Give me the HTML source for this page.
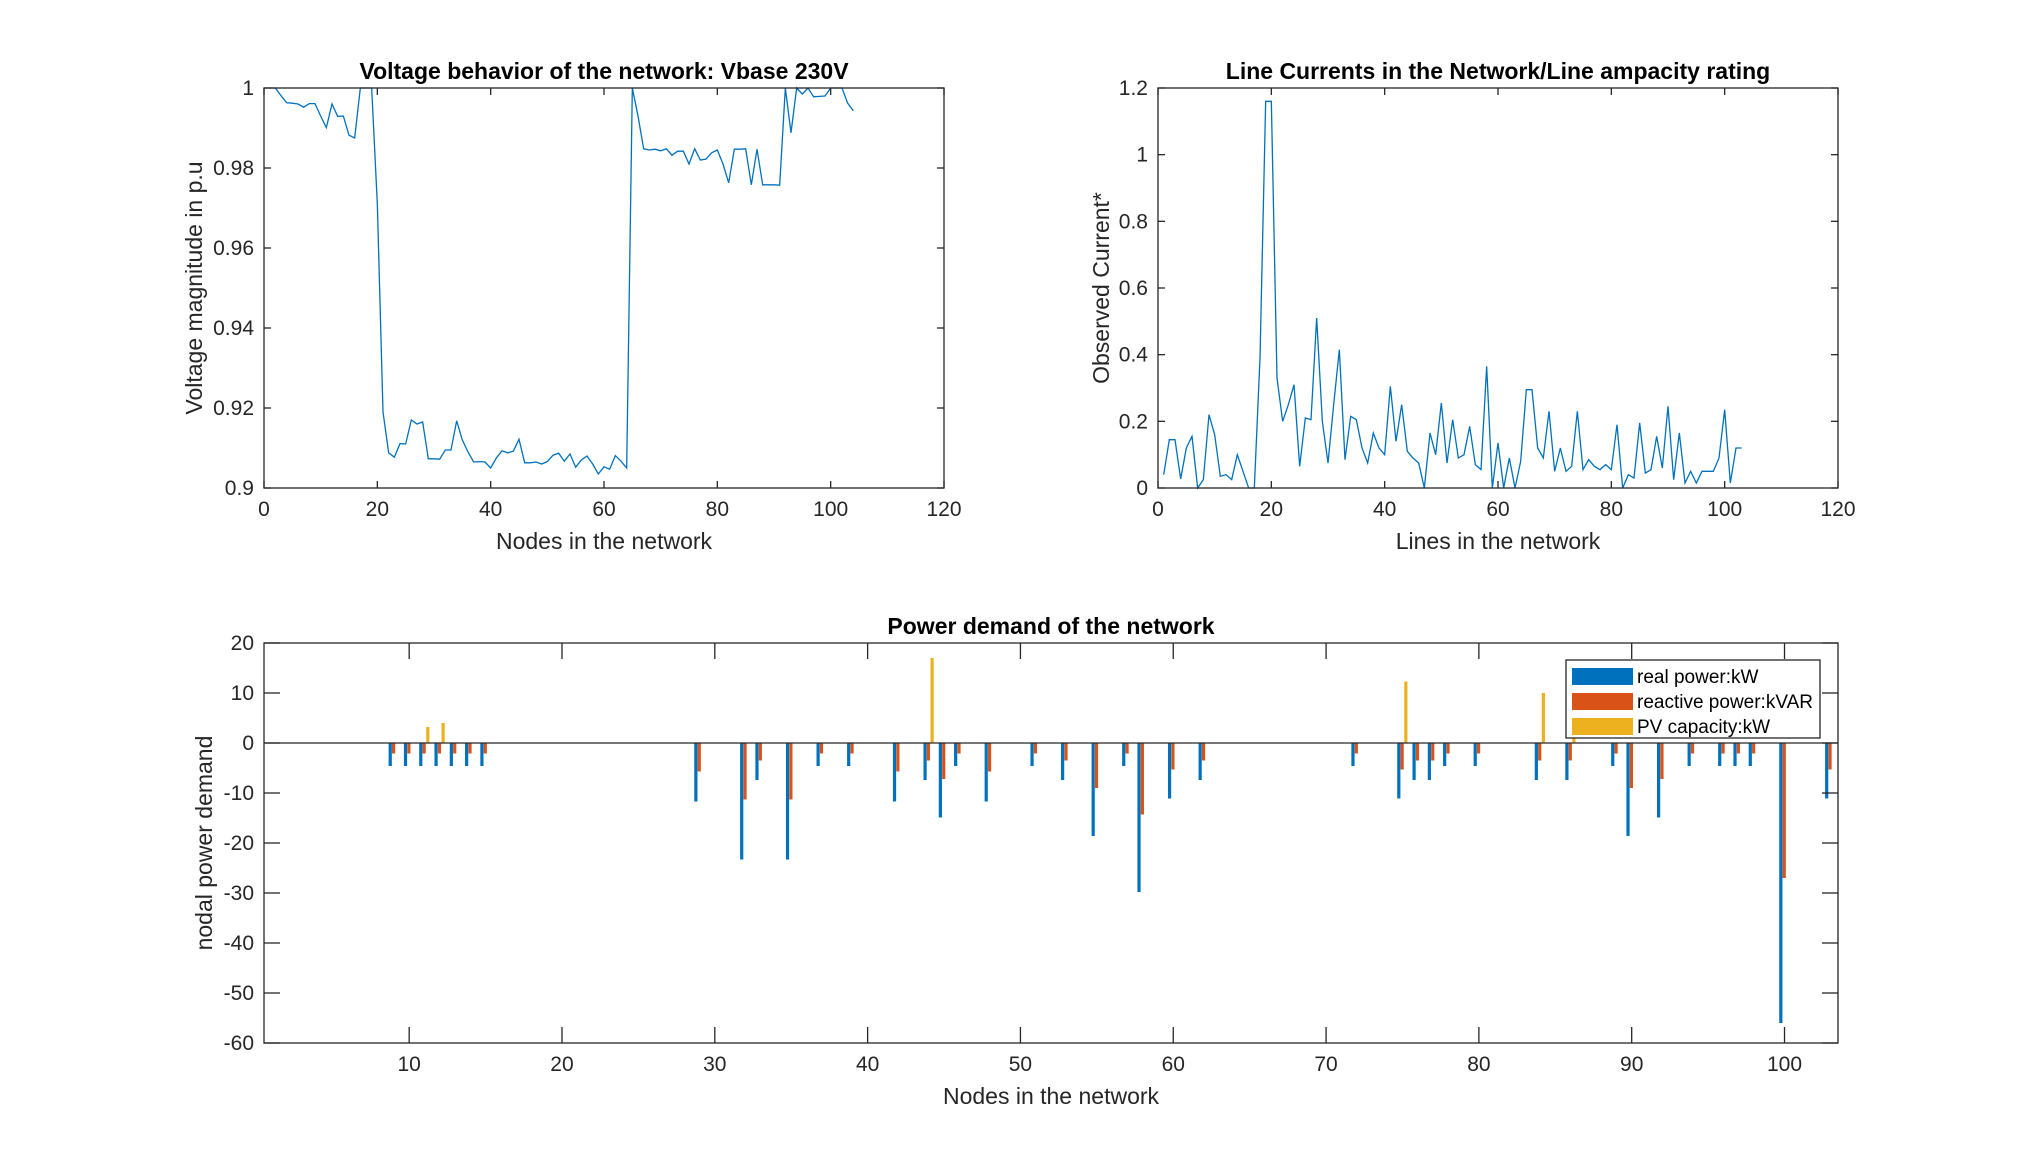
<!DOCTYPE html>
<html><head><meta charset="utf-8"><style>
html,body{margin:0;padding:0;background:#fff;}
svg{display:block;font-family:"Liberation Sans",Arial,sans-serif;}
</style></head><body>
<svg id="fig" width="2031" height="1172" viewBox="0 0 2031 1172" xmlns="http://www.w3.org/2000/svg"></svg>
<script>
const voltage=[1.0,1.0,0.9981,0.9963,0.9962,0.996,0.9952,0.9961,0.9961,0.993,0.9901,0.996,0.9929,0.993,0.9882,0.9875,1.0,1.0,1.0,0.971,0.919,0.9088,0.9077,0.9111,0.911,0.917,0.916,0.9165,0.9073,0.9073,0.9072,0.9095,0.9095,0.9168,0.912,0.909,0.9065,0.9066,0.9065,0.905,0.9075,0.9093,0.9088,0.9092,0.9122,0.9063,0.9063,0.9065,0.906,0.9066,0.9082,0.9087,0.9067,0.9085,0.9052,0.907,0.908,0.906,0.9035,0.9053,0.9047,0.9081,0.9067,0.905,1.0,0.993,0.9848,0.9845,0.9847,0.9843,0.9848,0.9832,0.9842,0.9842,0.981,0.9848,0.982,0.9822,0.9838,0.9845,0.981,0.9763,0.9847,0.9847,0.9848,0.9758,0.9847,0.9758,0.9758,0.9758,0.9757,1.0,0.9888,1.0,0.9985,1.0,0.9978,0.9979,0.998,1.0,1.0,1.0,0.9962,0.9943];
const current=[0.04,0.145,0.145,0.027,0.12,0.155,0,0.025,0.22,0.16,0.035,0.04,0.025,0.1,0.05,0,0,0.39,1.16,1.16,0.33,0.2,0.25,0.31,0.065,0.21,0.205,0.51,0.2,0.075,0.25,0.415,0.085,0.215,0.205,0.12,0.075,0.165,0.12,0.1,0.305,0.14,0.25,0.11,0.09,0.075,0,0.165,0.1,0.255,0.075,0.205,0.09,0.1,0.185,0.07,0.055,0.365,0,0.135,0,0.09,0,0.08,0.295,0.295,0.12,0.09,0.23,0.05,0.12,0.05,0.065,0.23,0.055,0.085,0.065,0.055,0.07,0.055,0.19,0,0.04,0.03,0.195,0.045,0.055,0.155,0.06,0.245,0.025,0.165,0.015,0.05,0.015,0.05,0.05,0.05,0.09,0.235,0.015,0.12,0.12];
const loadNodes=[9,10,11,12,13,14,15,29,32,33,35,37,39,42,44,45,46,48,51,53,55,57,58,60,62,72,75,76,77,78,80,84,86,89,90,92,94,96,97,98,100,103];
const realPower=[-4.6,-4.6,-4.6,-4.6,-4.6,-4.6,-4.6,-11.7,-23.3,-7.4,-23.3,-4.6,-4.6,-11.7,-7.4,-14.9,-4.6,-11.7,-4.6,-7.4,-18.6,-4.6,-29.8,-11.1,-7.4,-4.6,-11.1,-7.4,-7.4,-4.6,-4.6,-7.4,-7.4,-4.6,-18.6,-14.9,-4.6,-4.6,-4.6,-4.6,-56,-11.1];
const reactivePower=[-2.1,-2.1,-2.1,-2.1,-2.1,-2.1,-2.1,-5.7,-11.3,-3.5,-11.3,-2.1,-2.1,-5.7,-3.5,-7.2,-2.1,-5.7,-2.1,-3.5,-9,-2.1,-14.3,-5.3,-3.5,-2.1,-5.3,-3.5,-3.5,-2.1,-2.1,-3.5,-3.5,-2.1,-9,-7.2,-2.1,-2.1,-2.1,-2.1,-27,-5.3];
const pvNodes=[11,12,44,75,84,86];
const pvCapacity=[3.2,4.0,17,12.3,10,8];
const xTicksTop=[0,20,40,60,80,100,120];
const vTicks=[0.9,0.92,0.94,0.96,0.98,1];
const vTickLabels=["0.9","0.92","0.94","0.96","0.98","1"];
const cTicks=[0,0.2,0.4,0.6,0.8,1,1.2];
const cTickLabels=["0","0.2","0.4","0.6","0.8","1","1.2"];
const pTicksX=[10,20,30,40,50,60,70,80,90,100];
const pTicksY=[-60,-50,-40,-30,-20,-10,0,10,20];

const NS="http://www.w3.org/2000/svg";
const fig=document.getElementById('fig');
function mk(tag,attrs,parent){const e=document.createElementNS(NS,tag);for(const k in attrs)e.setAttribute(k,attrs[k]);(parent||fig).appendChild(e);return e;}
function scale(d0,d1,r0,r1){return v=>r0+(v-d0)/(d1-d0)*(r1-r0);}
const AX="#262626";

function axesBox(L,T,R,B,name){
  const g=mk('g',{});
  
  
  mk('rect',{x:L,y:T,width:R-L,height:B-T,fill:'#fff',stroke:'none'},g);
  return g;
}
function frame(g,L,T,R,B){mk('rect',{x:L,y:T,width:R-L,height:B-T,fill:'none',stroke:AX,'stroke-width':1.3},g);}
function xTicksFn(g,ticks,labels,sx,T,B,len){
  ticks.forEach((t,i)=>{const x=sx(t);
    mk('line',{x1:x,y1:B,x2:x,y2:B-len,stroke:AX,'stroke-width':1.3},g);
    mk('line',{x1:x,y1:T,x2:x,y2:T+len,stroke:AX,'stroke-width':1.3},g);
    const tx=mk('text',{x:x,y:B+28,'font-size':21,fill:AX,'text-anchor':'middle'},g);tx.textContent=labels[i];
    
    
  });
}
function yTicksFn(g,ticks,labels,sy,L,R,len){
  ticks.forEach((t,i)=>{const y=sy(t);
    mk('line',{x1:L,y1:y,x2:L+len,y2:y,stroke:AX,'stroke-width':1.3},g);
    mk('line',{x1:R,y1:y,x2:R-len,y2:y,stroke:AX,'stroke-width':1.3},g);
    const tx=mk('text',{x:L-10,y:y+7,'font-size':21,fill:AX,'text-anchor':'end'},g);tx.textContent=labels[i];
    
    
  });
}
function label(g,txt,x,y,rot,bold,name,size){
  const t=mk('text',{x:x,y:y,'font-size':size||22,fill:bold?'#000':AX,'text-anchor':'middle','font-weight':bold?'bold':'normal',transform:rot?`rotate(-90 ${x} ${y})`:''},g);
  t.textContent=txt;
  
  
}

// Plot 1: voltage
(function(){
  const L=264,T=88,R=944,B=488;
  const g=axesBox(L,T,R,B,'voltage-axes');
  const sx=scale(0,120,L,R), sy=scale(0.9,1,B,T);
  const pts=voltage.map((v,i)=>sx(i+1).toFixed(2)+','+sy(v).toFixed(2)).join(' ');
  const pl=mk('polyline',{points:pts,fill:'none',stroke:'#0072BD','stroke-width':1.3},g);
  
  
  frame(g,L,T,R,B);
  xTicksFn(g,xTicksTop,xTicksTop.map(String),sx,T,B,7);
  yTicksFn(g,vTicks,vTickLabels,sy,L,R,7);
  label(g,'Voltage behavior of the network: Vbase 230V',(L+R)/2,79,false,true,'voltage-title',23);
  label(g,'Nodes in the network',(L+R)/2,549,false,false,'voltage-x-axis-title',23);
  label(g,'Voltage magnitude in p.u',202,288,true,false,'voltage-y-axis-title',23);
})();

// Plot 2: current
(function(){
  const L=1158,T=88,R=1838,B=488;
  const g=axesBox(L,T,R,B,'current-axes');
  const sx=scale(0,120,L,R), sy=scale(0,1.2,B,T);
  const pts=current.map((v,i)=>sx(i+1).toFixed(2)+','+sy(v).toFixed(2)).join(' ');
  const pl=mk('polyline',{points:pts,fill:'none',stroke:'#0072BD','stroke-width':1.3},g);
  
  
  frame(g,L,T,R,B);
  xTicksFn(g,xTicksTop,xTicksTop.map(String),sx,T,B,7);
  yTicksFn(g,cTicks,cTickLabels,sy,L,R,7);
  label(g,'Line Currents in the Network/Line ampacity rating',(L+R)/2,79,false,true,'current-title',23);
  label(g,'Lines in the network',(L+R)/2,549,false,false,'current-x-axis-title',23);
  label(g,'Observed Current*',1109,288,true,false,'current-y-axis-title',23);
})();

// Plot 3: power demand
(function(){
  const L=264,T=643,R=1838,B=1043;
  const g=axesBox(L,T,R,B,'power-axes');
  const sx=scale(0.5,103.5,L,R), sy=scale(-60,20,B,T);
  const y0=sy(0);
  function bar(x,v,color,name){
    const y=sy(v);
    const r=mk('rect',{x:x-1.6,y:Math.min(y,y0),width:3.2,height:Math.abs(y-y0),fill:color},g);
    
    
  }
  loadNodes.forEach((n,i)=>{
    bar(sx(n-0.24),realPower[i],'#0072BD','bar-real-power');
    bar(sx(n-0.02),reactivePower[i],'#D95319','bar-reactive-power');
  });
  pvNodes.forEach((n,i)=>{bar(sx(n+0.22),pvCapacity[i],'#EDB120','bar-pv-capacity');});
  mk('line',{x1:L,y1:y0,x2:R,y2:y0,stroke:AX,'stroke-width':1.3},g);
  frame(g,L,T,R,B);
  xTicksFn(g,pTicksX,pTicksX.map(String),sx,T,B,16);
  yTicksFn(g,pTicksY,pTicksY.map(String),sy,L,R,16);
  label(g,'Power demand of the network',(L+R)/2,634,false,true,'power-title',23);
  label(g,'Nodes in the network',(L+R)/2,1104,false,false,'power-x-axis-title',23);
  label(g,'nodal power demand',212,843,true,false,'power-y-axis-title',23);
  // legend
  const lg=mk('g',{},g);
  
  
  mk('rect',{x:1566,y:660,width:254,height:78,fill:'#fff',stroke:AX,'stroke-width':1.3},lg);
  const items=[['real power:kW','#0072BD'],['reactive power:kVAR','#D95319'],['PV capacity:kW','#EDB120']];
  items.forEach((it,i)=>{
    const y=668+i*25;
    const sw=mk('rect',{x:1572,y:y,width:61,height:17,fill:it[1]},lg);
    
    
    const t=mk('text',{x:1637,y:y+15,'font-size':19,fill:'#000'},lg);t.textContent=it[0];
    
    
  });
})();
</script>
</body></html>
